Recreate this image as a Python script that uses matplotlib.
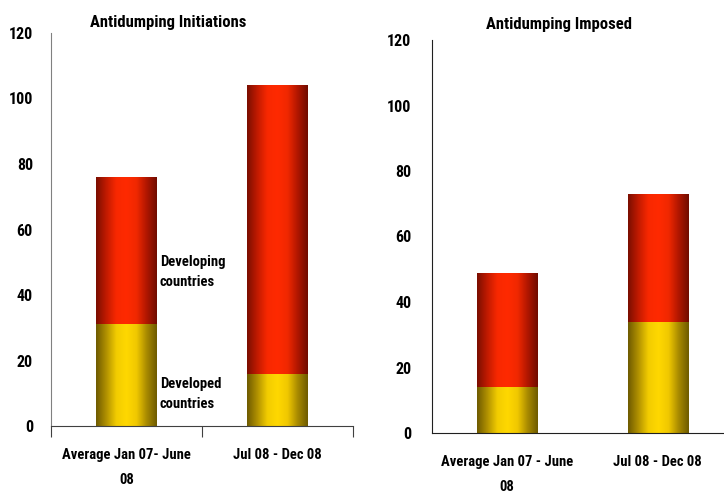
import numpy as np
import matplotlib
matplotlib.use("Agg")
import matplotlib.pyplot as plt
from matplotlib.colors import LinearSegmentedColormap

categories_left = ["Average Jan 07- June\n08", "Jul 08 - Dec 08"]
categories_right = ["Average Jan 07 - June\n08", "Jul 08 - Dec 08"]

initiations_developed = [31, 16]
initiations_developing = [45, 88]
imposed_developed = [14, 34]
imposed_developing = [35, 39]

y_ticks = [0, 20, 40, 60, 80, 100, 120]

plt.rcParams["font.family"] = ["Roboto Condensed", "Liberation Sans", "DejaVu Sans"]
plt.rcParams["font.weight"] = "bold"

yellow = LinearSegmentedColormap.from_list(
    "yel", ["#6e5a00", "#b09000", "#f2cc00", "#ffd800", "#f0c800", "#a88a00", "#6e5a00"])
red = LinearSegmentedColormap.from_list(
    "red", ["#7a0e00", "#c01a00", "#f82800", "#ff2a00", "#f02800", "#b01600", "#700c00"])
grad = np.linspace(0, 1, 256).reshape(1, -1)


def gradient_bars(ax, bars, cmap):
    for r in bars:
        x0, y0 = r.get_x(), r.get_y()
        x1, y1 = x0 + r.get_width(), y0 + r.get_height()
        im = ax.imshow(grad, extent=[x0, x1, y0, y1], aspect="auto", cmap=cmap,
                       interpolation="bilinear", zorder=2)
        im.set_clip_path(r)
        r.set_facecolor("none")
        r.set_edgecolor("none")


fig = plt.figure(figsize=(7.24, 4.94), dpi=100)
W, H = 724, 494

ax1 = fig.add_axes([51 / W, (H - 426) / H, 302 / W, 393 / H])
ax2 = fig.add_axes([432 / W, (H - 433) / H, 301 / W, 393 / H])

for ax, dev, dvg, cats in [(ax1, initiations_developed, initiations_developing, categories_left),
                           (ax2, imposed_developed, imposed_developing, categories_right)]:
    x = np.arange(len(dev))
    b1 = ax.bar(x, dev, width=0.4)
    b2 = ax.bar(x, dvg, width=0.4, bottom=dev)
    gradient_bars(ax, b1, yellow)
    gradient_bars(ax, b2, red)
    ax.set_xlim(-0.5, 1.5)
    ax.set_ylim(0, 120)
    ax.set_yticks(y_ticks)
    ax.tick_params(axis="y", length=0, labelsize=11.5)
    for s in ["top", "right"]:
        ax.spines[s].set_visible(False)
    # category labels under the bars
    for xi, c in zip(x, cats):
        ax.text(xi, -22 / 393, c, transform=ax.get_xaxis_transform(), ha="center", va="top",
                fontsize=10.5, fontweight="bold", linespacing=2.0)

ax1.tick_params(axis="y", pad=13)
ax2.tick_params(axis="y", pad=15)
ax1.spines["left"].set_color("#808080")
ax1.spines["bottom"].set_color("#404040")
ax2.spines["left"].set_color("#202020")
ax2.spines["bottom"].set_color("#202020")

ax1.set_xticks([-0.5, 0.5, 1.5])
ax1.set_xticklabels(["", "", ""])
ax1.tick_params(axis="x", length=8, direction="out", color="#404040")
ax2.set_xticks([])

ax1.set_title("Antidumping Initiations", fontsize=12, fontweight="bold", pad=4,
              x=117 / 302, loc="center")
ax2.set_title("Antidumping Imposed", fontsize=12, fontweight="bold", pad=8,
              x=127 / 301, loc="center")

ax1.text(0.22, 47, "Developing\ncountries", fontsize=10.5, fontweight="bold",
         va="center", ha="left", linespacing=1.5)
ax1.text(0.22, 9.8, "Developed\ncountries", fontsize=10.5, fontweight="bold",
         va="center", ha="left", linespacing=1.5)

fig.savefig("out.png", dpi=100)
